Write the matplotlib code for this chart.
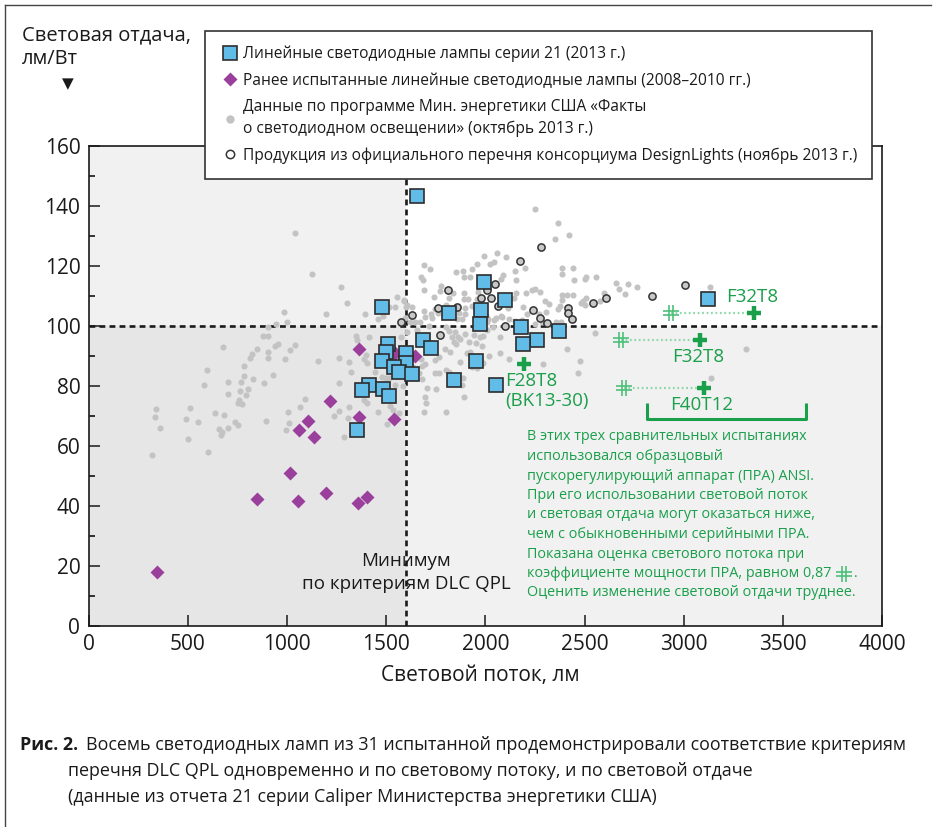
import matplotlib
matplotlib.use('Agg')
import matplotlib.pyplot as plt
from matplotlib.lines import Line2D
from matplotlib.path import Path

plt.rcParams['font.family'] = ['Open Sans', 'DejaVu Sans']

# ---------------- data ----------------
dlc_min_flux = 1600
dlc_min_eff = 100
x_max, y_max = 4000, 160
x_ticks = [0, 500, 1000, 1500, 2000, 2500, 3000, 3500, 4000]
y_ticks = [0, 20, 40, 60, 80, 100, 120, 140, 160]

# Caliper series 21 linear LED lamps (2013)
s21_flux = [1657, 1993, 2100, 1978, 1816, 1478, 1975, 2178, 2371, 2260, 2190, 1685,
            1728, 1953, 1843, 2053, 1508, 1501, 1601, 1477, 1601, 1540, 1565, 1632,
            1412, 1376, 1482, 1513, 1355, 3125]
s21_eff = [143.5, 114.8, 108.7, 105.3, 104.3, 106.2, 100.7, 99.8, 98.4, 95.2, 94.0, 95.2,
           92.8, 88.4, 81.9, 80.3, 93.9, 91.4, 91.1, 88.4, 87.6, 86.4, 84.8, 84.0,
           80.2, 78.7, 78.9, 76.8, 65.3, 108.9]

# previously tested linear LED lamps (2008-2010)
prev_flux = [1219, 1363, 1539, 1106, 1059, 1136, 1013, 850, 1057, 1196, 1356, 1405,
             345, 1364, 1545, 1644]
prev_eff = [75.1, 69.7, 68.9, 68.3, 65.2, 63.0, 51.1, 42.2, 41.7, 44.4, 41.0, 43.1,
            18.1, 92.3, 90.9, 90.1]

# LED Lighting Facts data (Oct 2013)
facts_flux = [
    985, 998, 944, 902, 877, 904, 679, 848, 953, 941, 821, 814, 902, 902, 990, 1014,
    598, 781, 783, 931, 827, 583, 701, 767, 882, 701, 764, 801, 794, 754, 771, 759,
    341, 334, 360, 510, 492, 552, 638, 684, 737, 751, 702, 658, 673, 665, 895, 1004,
    1009, 993, 502, 317, 602,
    1040, 1125, 1270, 1302, 1195, 1393, 1485, 1459, 1552, 1545, 1514, 1591, 1598, 1595,
    1575, 1412, 1347, 1354, 1042, 1157, 1263, 1313, 1325, 1398, 1404, 1446, 1477, 1499,
    1516, 1262, 1545, 1586, 1390,
    1067, 1092, 1260, 1238, 1312, 1306, 1387, 1403, 1458, 1502, 1520, 1534, 1567, 1287,
    1992, 2060, 2106, 2021, 2043, 1958, 1933, 1888, 1851, 1891, 1923, 2149, 2199, 2155,
    2089, 2079, 1721, 1692, 1674, 1686, 1691, 1775, 1772, 1740, 1816, 1835, 1890, 1891,
    1898, 1910, 1965, 1957, 1932, 1868, 1898, 1881, 1838, 1859, 1759, 1725, 1733, 1694,
    1745, 1794, 1801, 1689, 1629, 1607, 1588, 1668, 1644, 1619, 1653, 1603, 1718, 1801,
    1818, 1846, 1830, 1863, 1841, 1871, 1851, 1799, 1821, 1747, 1764, 1676, 1682, 1697,
    1636, 1666, 1683, 1706, 1697, 1703, 1801, 1692, 1747, 1804, 1818, 1874, 1905, 1925,
    1919, 1898, 1945, 2009, 2040, 2074, 1984, 1951, 2053, 2080, 2002, 2012, 2009, 2043,
    2120, 2148, 2187, 2212, 2190, 2156, 2146, 2115, 2084, 2118, 2074, 2016, 1987, 1958,
    1886, 1880, 1891, 1990, 1972, 1932, 1854, 1767, 1750,
    2251, 2367, 2350, 2420, 2388, 2389, 2443, 2447, 2502, 2510, 2558, 2659, 2673, 2720,
    2764, 2702, 2599, 2580, 2510, 2493, 2481, 2500, 2384, 2411, 2440, 2386, 2377, 2364,
    2299, 2323, 2275, 2251, 2234, 2203, 2305, 2272, 2285, 2251, 2357, 2382, 2554, 2413,
    2475, 2292, 2468,
    3135, 3312, 3140]
facts_eff = [
    104.6, 101.4, 100.6, 99.8, 96.6, 96.6, 92.9, 92.2, 94.1, 93.3, 90.7, 89.4, 91.4, 89.3, 88.9, 92.0,
    85.2, 86.7, 83.4, 83.8, 82.2, 80.2, 81.2, 81.3, 80.9, 77.2, 78.2, 79.1, 76.9, 74.3, 74.1, 75.2,
    72.3, 69.8, 66.0, 72.6, 69.0, 67.9, 71.1, 70.2, 68.0, 67.1, 66.1, 65.8, 64.6, 63.8, 68.3, 71.2,
    67.6, 65.2, 62.3, 57.1, 57.9,
    131.1, 117.4, 113.0, 107.7, 104.0, 104.1, 103.3, 102.2, 109.8, 106.4, 106.2, 108.7, 106.2, 102.7,
    96.2, 96.4, 96.7, 95.3, 93.8, 88.4, 89.3, 88.0, 84.7, 90.3, 87.8, 84.6, 83.1, 82.8,
    82.8, 80.9, 80.4, 80.1, 89.0,
    73.1, 75.6, 71.7, 70.1, 73.1, 69.2, 75.3, 74.4, 71.2, 67.3, 73.4, 71.9, 70.9, 63.1,
    123.3, 124.4, 123.0, 120.6, 121.4, 120.6, 119.0, 118.3, 118.0, 116.2, 116.2, 118.3, 119.4, 115.3,
    117.1, 115.7, 119.0, 120.2, 116.2, 115.3, 112.0, 113.2, 111.6, 109.7, 109.2, 110.9, 111.1, 109.0,
    106.1, 109.0, 111.5, 108.9, 106.7, 104.2, 103.9, 102.5, 103.7, 102.3, 104.5, 104.0, 102.7, 103.0,
    105.6, 105.9, 107.0, 105.1, 106.4, 106.9, 108.5, 101.5, 101.2, 101.3, 98.7, 98.1, 100.1, 99.7,
    98.2, 98.1, 96.3, 96.3, 94.7, 95.6, 94.1, 92.4, 91.2, 88.6, 89.7, 89.0, 86.6, 87.3,
    86.4, 84.2, 82.2, 79.5, 76.4, 74.2, 71.3, 71.5, 84.4, 85.5, 84.7, 88.1, 90.9, 91.4,
    94.7, 97.5, 97.0, 98.6, 99.6, 96.3, 93.5, 94.3, 102.6, 103.3, 103.4, 102.5, 101.2, 102.0,
    102.5, 101.6, 101.9, 103.9, 106.2, 111.1, 109.2, 105.9, 102.9, 89.1, 91.1, 89.9, 87.7, 86.0,
    82.7, 80.2, 76.3, 96.6, 96.4, 86.4, 80.9, 84.3, 79.0,
    139.1, 134.3, 129.0, 130.3, 119.4, 117.5, 119.5, 115.4, 115.7, 116.2, 116.3, 114.3, 112.5, 114.1,
    112.9, 110.6, 111.1, 108.4, 109.2, 108.3, 107.6, 107.0, 110.5, 110.2, 110.4, 108.6, 106.7, 105.6,
    108.2, 107.5, 111.5, 112.4, 111.9, 110.9, 104.6, 104.1, 101.3, 100.6, 101.5, 101.4, 97.7, 92.2,
    88.3, 87.5, 84.4,
    112.9, 92.3, 82.8]

# DesignLights Consortium QPL products (Nov 2013)
dlc_flux = [2279, 2174, 1814, 2050, 2007, 1980, 2029, 2062, 1857, 1763, 1632, 1574,
            1769, 2100, 2242, 2276, 2312, 2415, 2418, 2438, 2545, 2608, 2842, 3005]
dlc_eff = [126.3, 121.7, 112.1, 114.1, 111.9, 109.4, 109.4, 106.8, 106.3, 105.9, 103.6, 101.2,
           96.9, 100.0, 105.4, 102.7, 101.1, 106.1, 104.2, 102.4, 107.7, 109.3, 110.1, 113.6]

# ANSI reference-ballast comparisons
ansi_labels = ['F32T8', 'F32T8', 'F40T12']
ansi_flux_ref = [2937, 2682, 2697]     # measured with reference ballast
ansi_flux_est = [3353, 3080, 3100]     # estimate at ballast factor 0.87
ansi_eff = [104.4, 95.3, 79.4]
f28_label = 'F28T8\n(BK13-30)'
f28_flux = [2194]
f28_eff = [87.3]
bracket_flux = [2816, 3617]
bracket_eff = [74.4, 69.0]

legend_labels = [
    'Линейные светодиодные лампы серии 21 (2013 г.)',
    'Ранее испытанные линейные светодиодные лампы (2008–2010 гг.)',
    'Данные по программе Мин. энергетики США «Факты\nо светодиодном освещении» (октябрь 2013 г.)',
    'Продукция из официального перечня консорциума DesignLights (ноябрь 2013 г.)',
]
note_lines = [
    'В этих трех сравнительных испытаниях',
    'использовался образцовый',
    'пускорегулирующий аппарат (ПРА) ANSI.',
    'При его использовании световой поток',
    'и световая отдача могут оказаться ниже,',
    'чем с обыкновенными серийными ПРА.',
    'Показана оценка светового потока при',
    'коэффициенте мощности ПРА, равном 0,87',
    'Оценить изменение световой отдачи труднее.',
]
caption_bold = 'Рис. 2.'
caption_lines = [
    'Восемь светодиодных ламп из 31 испытанной продемонстрировали соответствие критериям',
    'перечня DLC QPL одновременно и по световому потоку, и по световой отдаче',
    '(данные из отчета 21 серии Caliper Министерства энергетики США)',
]

# ---------------- styles ----------------
BLUE = '#62bce8'
PURPLE = '#9a3f9c'
GRAY = '#c3c3c3'
GREEN = '#1a9f4b'
GREEN_LIGHT = '#4fc07b'
GREEN_DOT = '#8fd8aa'

W, H = 936, 827
def fx(px):
    return px / W
def fy(py):
    return 1 - py / H

fig = plt.figure(figsize=(W / 100, H / 100), dpi=100)
fig.patch.set_facecolor('white')

# outer frame of the figure panel
fig.add_artist(Line2D([fx(5), fx(5)], [fy(5), 0], color='#444444', lw=1.0))
fig.add_artist(Line2D([fx(5), fx(931)], [fy(5), fy(5)], color='#444444', lw=1.0))

ax = fig.add_axes([fx(88.7), fy(626), (882 - 88.7) / W, (626 - 146) / H])
ax.set_xlim(0, x_max)
ax.set_ylim(0, y_max)

# shaded zones
ax.fill_between([0, dlc_min_flux], dlc_min_eff, y_max, color='#f1f1f1', lw=0, zorder=0)
ax.fill_between([0, dlc_min_flux], 0, dlc_min_eff, color='#e6e6e6', lw=0, zorder=0)
ax.fill_between([dlc_min_flux, x_max], 0, dlc_min_eff, color='#f1f1f1', lw=0, zorder=0)

# DLC minimum lines
dash = (0, (2.2, 1.6))
ax.axhline(dlc_min_eff, color='#1a1a1a', lw=1.9, ls=dash, zorder=1.5)
ax.axvline(dlc_min_flux, color='#1a1a1a', lw=1.9, ls=dash, zorder=1.5)

# series
ax.plot(facts_flux, facts_eff, ls='none', marker='o', ms=4.4, mfc=GRAY, mec='none', zorder=2)
ax.plot(dlc_flux, dlc_eff, ls='none', marker='o', ms=5.2, mfc='#c8c8c8', mec='#333333',
        mew=1.1, zorder=3)
ax.plot(prev_flux, prev_eff, ls='none', marker='D', ms=7.4, mfc=PURPLE, mec='none', zorder=4)
ax.plot(s21_flux, s21_eff, ls='none', marker='s', ms=9.6, mfc=BLUE, mec='#2d2d2d',
        mew=1.2, zorder=5)

# hash marker
hash_path = Path([(-1, -0.28), (1, -0.28), (-1, 0.28), (1, 0.28),
                  (-0.28, -1), (-0.28, 1), (0.28, -1), (0.28, 1)],
                 [Path.MOVETO, Path.LINETO] * 4)

for xr, xe, e in zip(ansi_flux_ref, ansi_flux_est, ansi_eff):
    ax.plot([xr, xe], [e, e], color=GREEN_DOT, lw=1.6, ls=(0, (0.8, 1.2)), zorder=6)
ax.plot(ansi_flux_ref, ansi_eff, ls='none', marker=hash_path, ms=11, mfc='none',
        mec=GREEN_LIGHT, mew=1.2, zorder=7)
ax.plot(ansi_flux_est, ansi_eff, ls='none', marker='+', ms=10, mew=3.2, mec=GREEN, zorder=7)
ax.plot(f28_flux, f28_eff, ls='none', marker='+', ms=10, mew=3.2, mec=GREEN, zorder=7)

# bracket around the three comparisons
ax.plot([bracket_flux[0], bracket_flux[0], bracket_flux[1], bracket_flux[1]],
        [bracket_eff[0], bracket_eff[1], bracket_eff[1], bracket_eff[0]],
        color=GREEN, lw=2.2, solid_capstyle='butt', zorder=6)

# labels for comparisons
lab_fs = 13.5
ax.text(3345, 109.8, ansi_labels[0], color=GREEN, fontsize=lab_fs, ha='center', va='center')
ax.text(3071, 89.8, ansi_labels[1], color=GREEN, fontsize=lab_fs, ha='center', va='center')
ax.text(3088, 73.7, ansi_labels[2], color=GREEN, fontsize=lab_fs, ha='center', va='center')
ax.text(2100, 78.2, f28_label, color=GREEN, fontsize=lab_fs, ha='left', va='center',
        linespacing=1.15)

# note block
note_fs = 10.4
line_step = 6.5
note_texts = []
for i, line in enumerate(note_lines):
    t = ax.text(2208, 63 - i * line_step, line, color=GREEN, fontsize=note_fs,
                ha='left', va='center')
    note_texts.append(t)

# DLC minimum label
ax.text(dlc_min_flux, 21.7, 'Минимум', fontsize=13.5, ha='center', va='center', color='#1a1a1a')
ax.text(dlc_min_flux, 14.0, 'по критериям DLC QPL', fontsize=13.5, ha='center', va='center',
        color='#1a1a1a')

# ticks and spines
ax.set_xticks(x_ticks)
ax.set_yticks(y_ticks)
ax.set_yticks([v + 10 for v in y_ticks[:-1]], minor=True)
ax.tick_params(which='major', direction='in', length=8, width=1.1, labelsize=15, pad=6,
               colors='#1a1a1a')
ax.tick_params(which='minor', direction='in', length=4, width=1.1)
for s in ax.spines.values():
    s.set_linewidth(1.2)
    s.set_color('#1a1a1a')

# axis titles
fig.text(fx(480), fy(676), 'Световой поток, лм', fontsize=15, ha='center', va='center',
         color='#1a1a1a')
fig.text(fx(22), fy(35), 'Световая отдача,', fontsize=14.5, ha='left', va='center',
         color='#1a1a1a')
fig.text(fx(22), fy(59), 'лм/Вт', fontsize=14.5, ha='left', va='center', color='#1a1a1a')
fig.text(fx(68), fy(84), '▼', fontsize=11, ha='center', va='center', color='#1a1a1a',
         family=['DejaVu Sans'])

# legend
handles = [
    Line2D([], [], ls='none', marker='s', ms=9.6, mfc=BLUE, mec='#2d2d2d', mew=1.2),
    Line2D([], [], ls='none', marker='D', ms=7.4, mfc=PURPLE, mec='none'),
    Line2D([], [], ls='none', marker='o', ms=6.0, mfc=GRAY, mec='none'),
    Line2D([], [], ls='none', marker='o', ms=6.0, mfc='white', mec='#333333', mew=1.1),
]
leg = ax.legend(handles, legend_labels, loc='upper left',
                bbox_to_anchor=(fx(205), fy(31)), bbox_transform=fig.transFigure,
                fontsize=11.2, frameon=True, fancybox=False, framealpha=1,
                edgecolor='#333333', borderpad=0.95, handlelength=1.3,
                handletextpad=0.22, labelspacing=0.68, borderaxespad=0)
leg.get_frame().set_linewidth(1.2)
leg.set_zorder(20)
for t in leg.get_texts():
    t.set_color('#1a1a1a')
    t.set_linespacing(1.4)

# caption
cap_fs = 12.85
fig.text(fx(20), fy(745), caption_bold, fontsize=cap_fs, fontweight='bold', ha='left',
         va='center', color='#1a1a1a')
fig.text(fx(86), fy(745), caption_lines[0], fontsize=cap_fs, ha='left', va='center', color='#1a1a1a')
fig.text(fx(68), fy(771), caption_lines[1], fontsize=cap_fs, ha='left', va='center', color='#1a1a1a')
fig.text(fx(68), fy(797), caption_lines[2], fontsize=cap_fs, ha='left', va='center', color='#1a1a1a')

# hash symbol inside the note text
fig.canvas.draw()
renderer = fig.canvas.get_renderer()
bb = note_texts[7].get_window_extent(renderer)
inv = ax.transAxes.inverted()
mx, my = inv.transform((bb.x1 + 13, (bb.y0 + bb.y1) / 2))
ax.plot([mx], [my], transform=ax.transAxes, ls='none', marker=hash_path, ms=11,
        mfc='none', mec=GREEN_LIGHT, mew=1.2, zorder=7, clip_on=False)
dx, dy = inv.transform((bb.x1 + 23, (bb.y0 + bb.y1) / 2))
ax.text(dx, dy, '.', transform=ax.transAxes, color=GREEN, fontsize=note_fs,
        ha='left', va='center')

fig.savefig('out.png', dpi=100)
